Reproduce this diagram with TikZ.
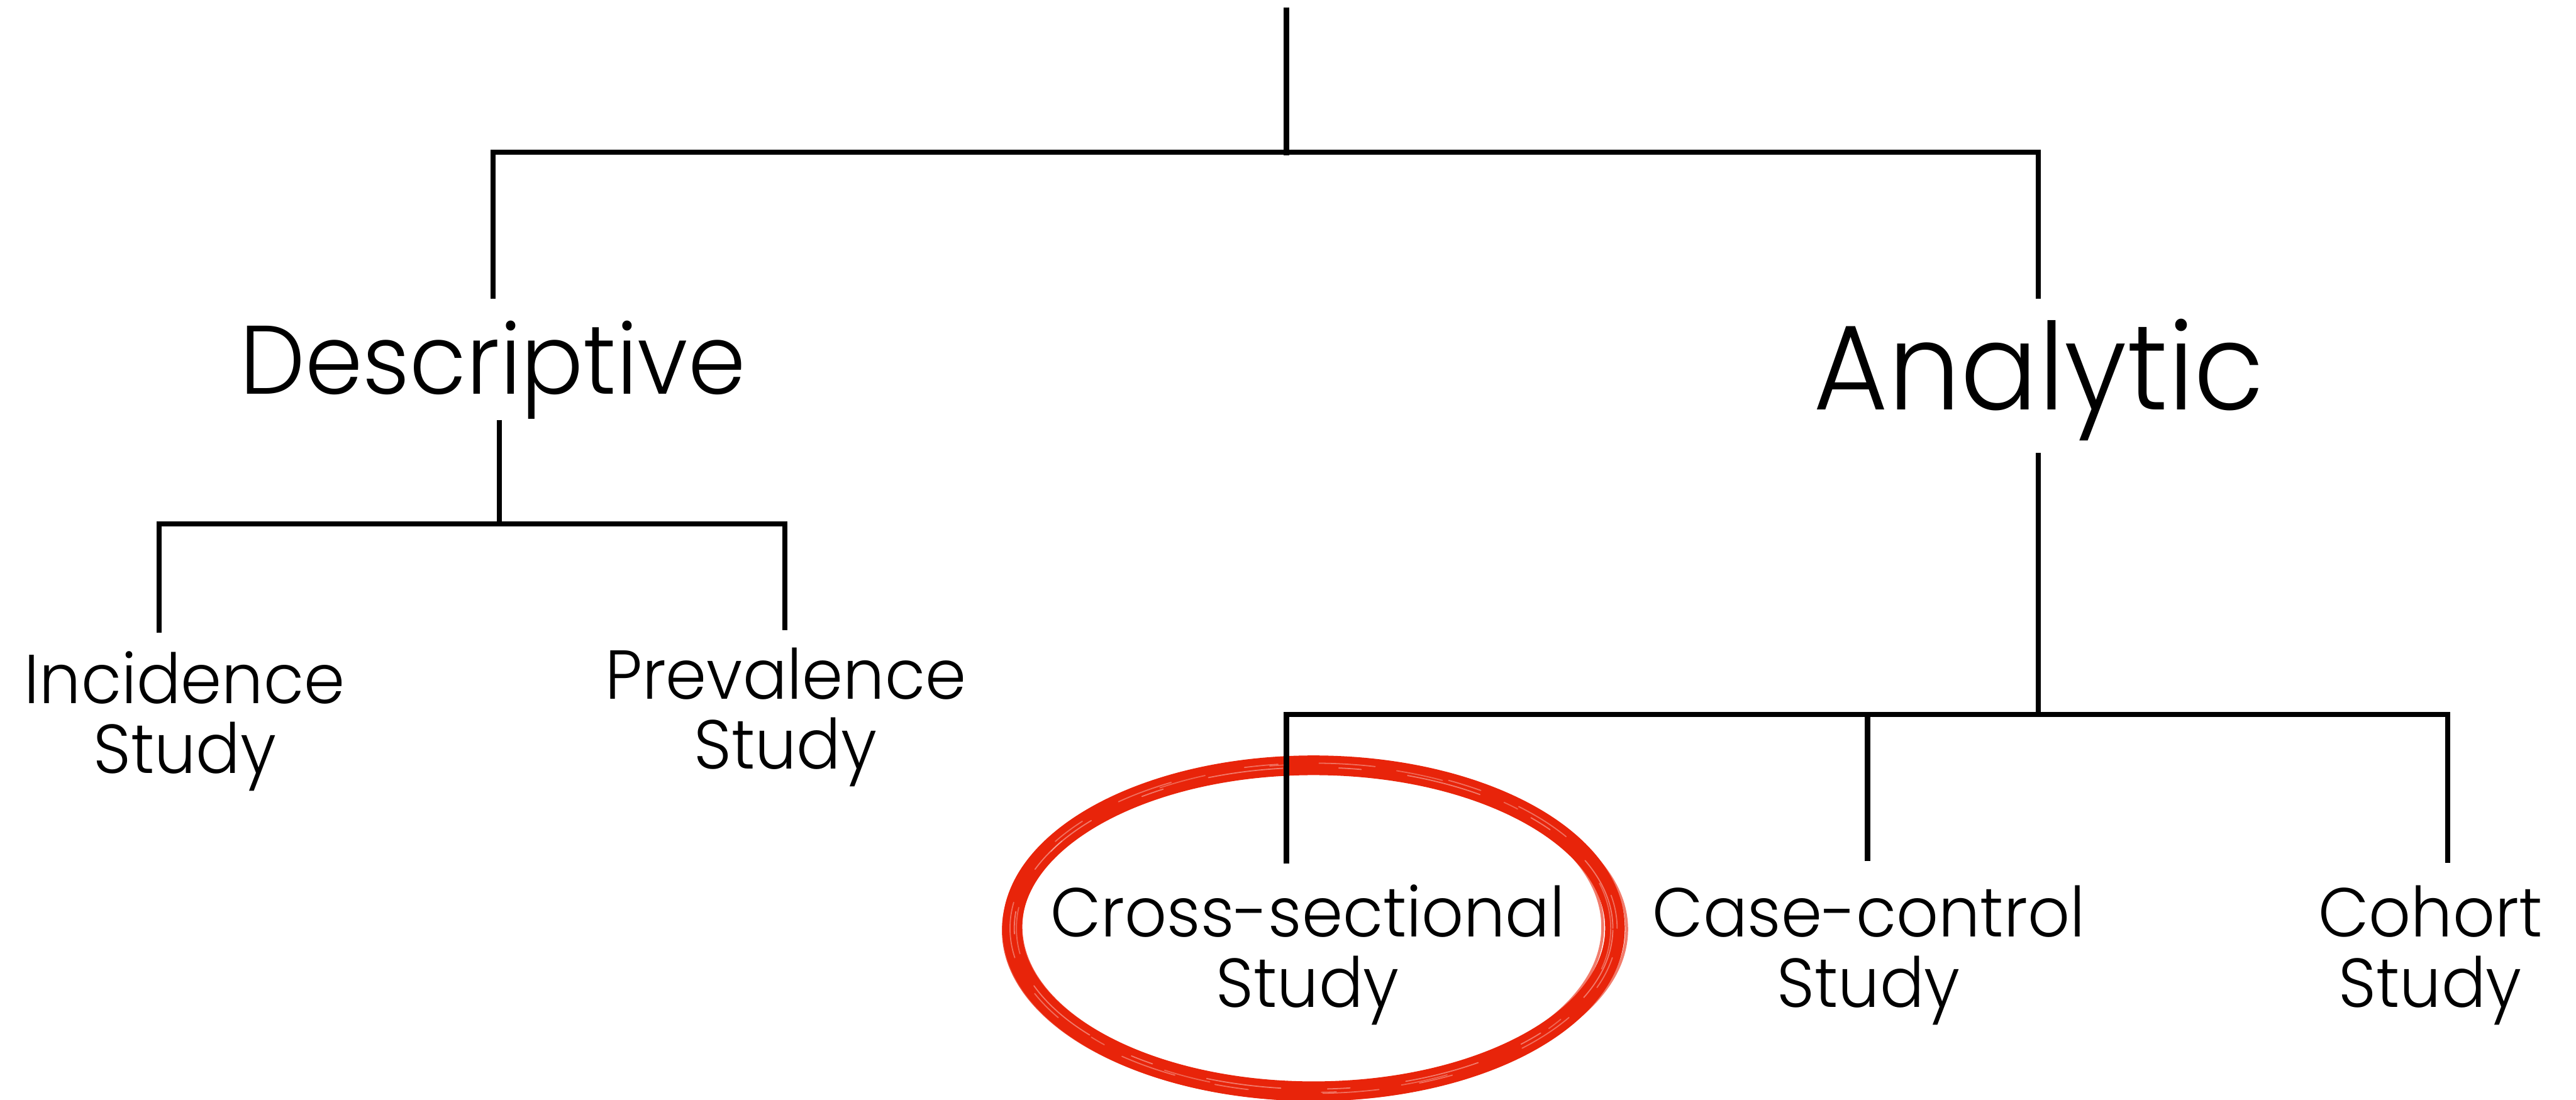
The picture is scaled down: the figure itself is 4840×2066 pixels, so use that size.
\documentclass[tikz,border=0pt]{standalone}
\usepackage{fontspec}
\setmainfont{Poppins}[UprightFont=* Light, FakeStretch=0.95]
\begin{document}
\begin{tikzpicture}[x=0.01cm,y=-0.01cm,
    tree/.style={line width=2.8pt,black,line join=miter},
    label/.style={inner sep=0pt,anchor=base,align=center,
      font=\fontsize{37pt}{37.5pt}\selectfont},
    midlabel/.style={inner sep=0pt,anchor=base,
      font=\fontsize{52pt}{52pt}\selectfont},
    biglabel/.style={inner sep=0pt,anchor=base,
      font=\fontsize{64.5pt}{64.5pt}\selectfont},
    brush/.style={draw=brushred,line cap=round},
    streak/.style={draw=white,line cap=round,line width=0.6pt}]
\definecolor{brushred}{RGB}{232,36,10}
\useasboundingbox (0,0) rectangle (4840,2066);

% red brush ring around the cross-sectional study
\foreach \dx/\dy/\rx/\ry/\w/\o in {
    0/0/5.66/3.06/10.5pt/1,
    -4/4/5.76/3.14/3pt/0.8,
    3/-3/5.55/2.97/3pt/0.8,
    6/2/5.82/3.09/1.5pt/0.6,
    -6/-2/5.49/3.01/1.5pt/0.6,
    2/8/5.62/3.13/2pt/0.7}
  \draw[brush,line width=\w,opacity=\o] (2468+\dx,1744+\dy)
    ellipse [x radius=\rx cm, y radius=\ry cm];
\draw[brush,line width=8pt] (2468,1744) ++(235:5.6cm and 3.06cm)
    arc [start angle=235, end angle=305, x radius=5.6cm, y radius=3.06cm];
% dry-brush streaks in the paint
\draw[streak,opacity=0.4,dash pattern=on 40pt off 25pt on 12pt off 30pt]
  (2468,1744) ellipse [x radius=5.62cm, y radius=3.02cm];
\draw[streak,opacity=0.35,dash pattern=on 18pt off 40pt on 30pt off 22pt]
  (2468,1744) ellipse [x radius=5.70cm, y radius=3.10cm];
\draw[streak,opacity=0.3,dash pattern=on 25pt off 60pt on 8pt off 35pt]
  (2468,1744) ellipse [x radius=5.58cm, y radius=3.08cm];

% labels
\node[midlabel] (desc) at (926,740) {Descriptive};
\node[biglabel] (ana) at (3831,770) {Analytic};
\node[label] (inc) at (347,1453) {Incidence\\Study};
\node[label] (prev) at (1476,1445) {Prevalence\\Study};
\node[label] (cross) at (2457,1892) {Cross-sectional\\Study};
\node[label] (case) at (3511,1892) {Case-control\\Study};
\node[label] (coh) at (4566,1892) {Cohort\\Study};

% connector end points
\coordinate (root) at (2417,14);
\coordinate (rootj) at (2417,292);
\coordinate (desc-in) at (926,561);
\coordinate (ana-in) at (3830,561);
\coordinate (desc-out) at (938,789);
\coordinate (descj) at (938,984);
\coordinate (inc-in) at (299,1189);
\coordinate (prev-in) at (1475,1184);
\coordinate (ana-out) at (3830,851);
\coordinate (anaj) at (3830,1342);
\coordinate (cross-in) at (2417,1622);
\coordinate (case-in) at (3509,1618);
\coordinate (coh-in) at (4599,1621);

% tree connectors
\draw[tree] (root) -- (rootj);
\draw[tree] (desc-in) |- (2417,286) -| (ana-in);
\draw[tree] (desc-out) -- (descj);
\draw[tree] (inc-in) |- (descj) -| (prev-in);
\draw[tree] (ana-out) -- (anaj);
\draw[tree] (cross-in) |- (anaj) -| (coh-in);
\draw[tree] (anaj -| case-in) -- (case-in);
\end{tikzpicture}
\end{document}
